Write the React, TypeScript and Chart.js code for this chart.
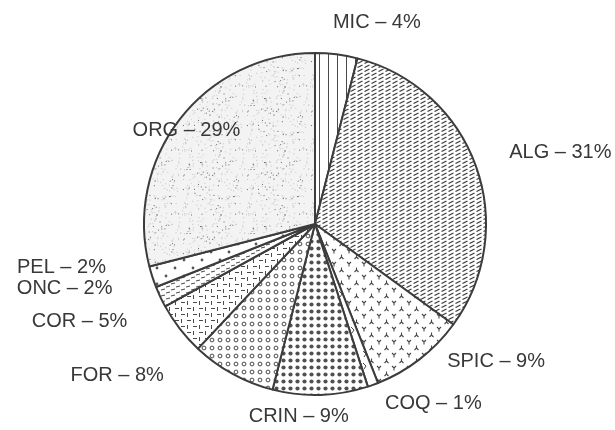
import React, { useEffect, useRef } from "react";
import { Chart, registerables } from "chart.js";

Chart.register(...registerables);

const categories = ["MIC", "ALG", "SPIC", "COQ", "CRIN", "FOR", "COR", "ONC", "PEL", "ORG"];
const values = [4, 31, 9, 1, 9, 8, 5, 2, 2, 29];
const pointLabels = categories.map((c, i) => `${c} – ${values[i]}%`);

const INK = "#4a4a4a";

function tile(w: number, h: number, draw: (c: CanvasRenderingContext2D) => void, bg = "#ffffff") {
  const cv = document.createElement("canvas");
  cv.width = w;
  cv.height = h;
  const c = cv.getContext("2d")!;
  c.fillStyle = bg;
  c.fillRect(0, 0, w, h);
  c.strokeStyle = INK;
  c.fillStyle = INK;
  draw(c);
  const tmp = document.createElement("canvas").getContext("2d")!;
  return tmp.createPattern(cv, "repeat")!;
}

function seeded(seed: number) {
  let s = seed;
  return () => {
    s = (s * 16807) % 2147483647;
    return (s - 1) / 2147483646;
  };
}

function makePatterns() {
  const mic = tile(9, 4, (c) => {
    c.lineWidth = 1;
    c.beginPath();
    c.moveTo(4.5, 0);
    c.lineTo(4.5, 4);
    c.stroke();
  });
  const alg = tile(7, 4, (c) => {
    c.strokeStyle = "#3a3a3a";
    c.lineWidth = 1.2;
    c.beginPath();
    c.moveTo(0.5, 3.5);
    c.lineTo(5.5, 1);
    c.stroke();
  });
  const spic = tile(15, 13, (c) => {
    c.lineWidth = 1.1;
    const y = (x: number, yy: number, inv: boolean) => {
      c.beginPath();
      const d = inv ? -1 : 1;
      c.moveTo(x, yy);
      c.lineTo(x, yy + 2.5 * d);
      c.moveTo(x, yy);
      c.lineTo(x - 2, yy - 2 * d);
      c.moveTo(x, yy);
      c.lineTo(x + 2, yy - 2 * d);
      c.stroke();
    };
    y(4, 4, false);
    y(11.5, 10, true);
  });
  const coq = tile(12, 12, (c) => {
    c.lineWidth = 1;
    c.beginPath();
    c.moveTo(3, 3);
    c.lineTo(6, 6);
    c.moveTo(6, 6);
    c.lineTo(4, 9);
    c.stroke();
  });
  const crin = tile(7, 7, (c) => {
    c.fillStyle = "#505050";
    c.beginPath();
    c.arc(3.5, 3.5, 2.1, 0, Math.PI * 2);
    c.fill();
  });
  const forp = tile(8, 8, (c) => {
    c.lineWidth = 1;
    c.beginPath();
    c.arc(4, 4, 1.9, 0, Math.PI * 2);
    c.stroke();
  });
  const cor = tile(12, 12, (c) => {
    c.lineWidth = 1;
    c.beginPath();
    c.moveTo(1, 2.5);
    c.lineTo(5, 2.5);
    c.moveTo(7.5, 1);
    c.lineTo(7.5, 5);
    c.moveTo(7, 8.5);
    c.lineTo(11, 8.5);
    c.moveTo(1.5, 7);
    c.lineTo(1.5, 11);
    c.stroke();
  });
  const onc = tile(10, 6, (c) => {
    c.lineWidth = 1;
    c.beginPath();
    c.moveTo(1, 2);
    c.lineTo(5, 1);
    c.moveTo(6, 5);
    c.lineTo(10, 4);
    c.stroke();
  });
  const pel = tile(18, 16, (c) => {
    c.fillStyle = "#555";
    c.beginPath();
    c.arc(4, 4, 1.4, 0, Math.PI * 2);
    c.arc(13, 12, 1.4, 0, Math.PI * 2);
    c.fill();
  });
  const org = tile(64, 64, (c) => {
    const r = seeded(12345);
    for (let i = 0; i < 240; i++) {
      const x = r() * 64;
      const yv = r() * 64;
      c.fillStyle = r() < 0.25 ? "#666" : "#c4c4c4";
      c.fillRect(x, yv, 1, 1);
    }
  }, "#f3f3f3");
  return [mic, alg, spic, coq, crin, forp, cor, onc, pel, org];
}

const labelDx = [-5, 22, 20, 8, -22, -63, -43, -37, -35, 70];
const labelDy = [-20, -10, -7, 7, 10, -9, -15, -13, -13, 19];
const labelAlign: CanvasTextAlign[] = ["left", "left", "left", "left", "center", "right", "right", "right", "right", "right"];

const labelPlugin = {
  id: "outerLabels",
  afterDraw(chart: any) {
    const ctx = chart.ctx;
    const meta = chart.getDatasetMeta(0);
    ctx.save();
    ctx.font = '20px "Liberation Sans", Arial, sans-serif';
    ctx.fillStyle = "#383838";
    ctx.textBaseline = "middle";
    meta.data.forEach((arc: any, i: number) => {
      const p = arc.getProps(["x", "y", "startAngle", "endAngle", "outerRadius"], true);
      const mid = (p.startAngle + p.endAngle) / 2;
      const R = p.outerRadius + 12;
      const x = p.x + Math.cos(mid) * R + labelDx[i];
      const y = p.y + Math.sin(mid) * R + labelDy[i];
      ctx.textAlign = labelAlign[i];
      ctx.fillText(pointLabels[i], x, y);
    });
    ctx.restore();
  },
};

export default function App() {
  const ref = useRef<HTMLCanvasElement>(null);
  useEffect(() => {
    const patterns = makePatterns();
    const chart = new Chart(ref.current!, {
      type: "pie",
      data: {
        labels: categories,
        datasets: [
          {
            data: values,
            backgroundColor: patterns as any,
            borderColor: "#3c3c3c",
            borderWidth: 2,
          },
        ],
      },
      options: {
        responsive: false,
        animation: false,
        layout: { padding: { left: 143, right: 128, top: 52, bottom: 34 } },
        plugins: { legend: { display: false }, tooltip: { enabled: false } },
      },
      plugins: [labelPlugin],
    });
    return () => chart.destroy();
  }, []);
  return (
    <div style={{ position: "absolute", left: 0, top: 0, width: 615, height: 430, background: "#fff" }}>
      <canvas ref={ref} width={615} height={430} />
    </div>
  );
}
